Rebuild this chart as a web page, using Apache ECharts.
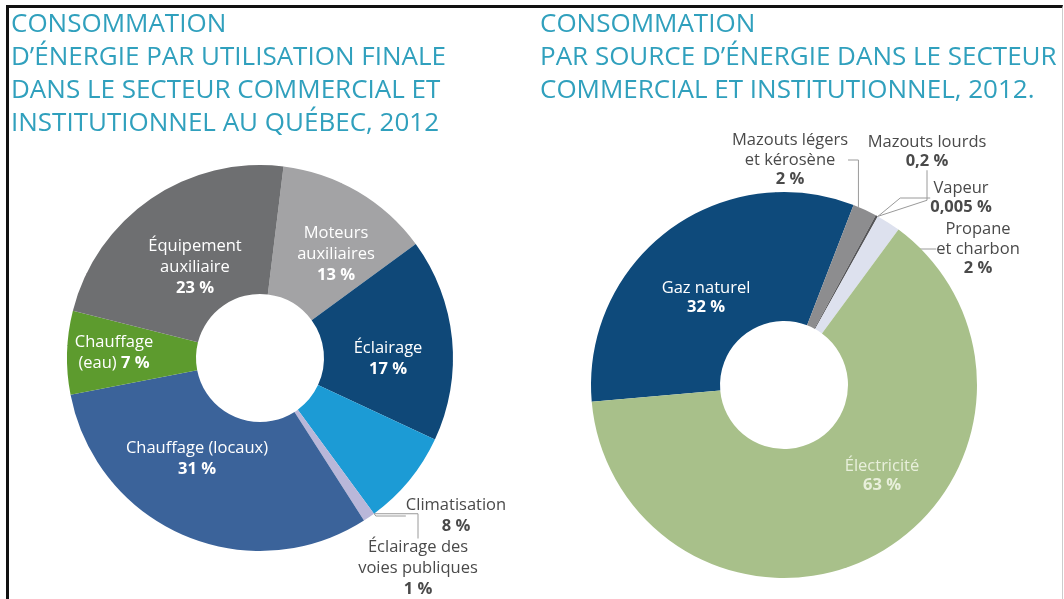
<!DOCTYPE html>
<html>
<head>
<meta charset="utf-8">
<script src="https://cdn.jsdelivr.net/npm/echarts@6/dist/echarts.min.js"></script>
<style>
html,body{margin:0;padding:0;background:#fff;}
#frame{position:absolute;left:6px;top:5px;width:1057px;height:600px;border-top:3px solid #111;border-left:3px solid #111;border-right:1px solid #ccc;box-sizing:border-box;pointer-events:none;}
#chart{position:absolute;left:0;top:0;width:1064px;height:599px;}
</style>
</head>
<body>
<div id="chart"></div>
<div id="frame"></div>
<script>
// ---- Data ----
const leftTitle = "CONSOMMATION\nD\u2019ÉNERGIE PAR UTILISATION FINALE\nDANS LE SECTEUR COMMERCIAL ET\nINSTITUTIONNEL AU QUÉBEC, 2012";
const rightTitle = "CONSOMMATION\nPAR SOURCE D\u2019ÉNERGIE DANS LE SECTEUR\nCOMMERCIAL ET INSTITUTIONNEL, 2012.";

const useCategories = ["Moteurs auxiliaires", "Éclairage", "Climatisation", "Éclairage des voies publiques", "Chauffage (locaux)", "Chauffage (eau)", "Équipement auxiliaire"];
const useValues = [13, 17, 8, 1, 31, 7, 23];
const useLabels = ["13 %", "17 %", "8 %", "1 %", "31 %", "7 %", "23 %"];

const sourceCategories = ["Gaz naturel", "Mazouts légers et kérosène", "Mazouts lourds", "Vapeur", "Propane et charbon", "Électricité"];
const sourceValues = [32, 2, 0.2, 0.005, 2, 63];
const sourceLabels = ["32 %", "2 %", "0,2 %", "0,005 %", "2 %", "63 %"];

// ---- Styling / layout ----
const FONT = "'Open Sans', 'Noto Sans', sans-serif";
const useColors = ["#a3a3a5", "#0f4878", "#1c9bd5", "#b9b7d9", "#3b639a", "#5d9b2e", "#6e6f71"];
const sourceColors = ["#0e4a7b", "#8d8d8f", "#555558", "#bfc4d8", "#dde1ee", "#a8c08a"];

// label text (line breaks) per category
const useLabelText = {
  "Moteurs auxiliaires": ["Moteurs", "auxiliaires"],
  "Éclairage": ["Éclairage"],
  "Climatisation": ["Climatisation"],
  "Éclairage des voies publiques": ["Éclairage des", "voies publiques"],
  "Chauffage (locaux)": ["Chauffage (locaux)"],
  "Chauffage (eau)": ["Chauffage"],
  "Équipement auxiliaire": ["Équipement", "auxiliaire"]
};
const sourceLabelText = {
  "Gaz naturel": ["Gaz naturel"],
  "Mazouts légers et kérosène": ["Mazouts légers", "et kérosène"],
  "Mazouts lourds": ["Mazouts lourds"],
  "Vapeur": ["Vapeur"],
  "Propane et charbon": ["Propane", "et charbon"],
  "Électricité": ["Électricité"]
};
// label anchor positions (px); third value: 0 inside (white), 1 outside (dark), 2 pale
const useLabelPos = [[336, 254, 0], [388, 359, 0], [456, 516, 1], [418, 568, 1], [197, 459, 0], [114, 353, 0], [195, 267, 0]];
const useLeader = {3: [[368, 519], [384, 528]]};
const sourceLabelPos = [[790, 160, 1], [927, 152, 1], [961, 198, 1], [978, 249, 1], [706, 298, 0], [882, 476, 2]];
const sourceLeader = {1: [[851, 197], [823, 177]], 2: [[875, 214], [893, 162]], 3: [[878, 214], [926, 202]], 4: [[885, 222], [938, 227]]};

function richFor(kind, lh) {
  const c = kind === 1 ? "#4a4a4a" : (kind === 2 ? "#e8efdb" : "#ffffff");
  return {
    n: {fontFamily: FONT, fontSize: 16.5, color: c, lineHeight: lh, align: 'center'},
    v: {fontFamily: FONT, fontSize: 16.5, color: c, fontWeight: 'bold', lineHeight: lh, align: 'center'}
  };
}

function buildData(cats, vals, labs, colors, textMap, pos, lh) {
  return cats.map((c, i) => {
    const lines = textMap[c];
    let fmt;
    if (c === "Chauffage (eau)") {
      fmt = "{n|" + lines[0] + "}\n{n|(eau) }{v|" + labs[i] + "}";
    } else {
      fmt = lines.map(l => "{n|" + l + "}").join("\n") + "\n{v|" + labs[i] + "}";
    }
    return {
      name: c,
      value: vals[i],
      itemStyle: {color: colors[i]},
      label: {show: true, formatter: fmt, rich: richFor(pos[i][2], lh), position: 'inside'}
    };
  });
}

function layoutFn(pos, leaders) {
  return function (params) {
    const p = pos[params.dataIndex];
    const r = {x: p[0], y: p[1], align: 'center', verticalAlign: 'middle'};
    if (leaders[params.dataIndex]) r.labelLinePoints = leaders[params.dataIndex];
    return r;
  };
}

// reorder right labels to match data order
const sourcePosByIndex = [sourceLabelPos[4], sourceLabelPos[0], sourceLabelPos[1], sourceLabelPos[2], sourceLabelPos[3], sourceLabelPos[5]];

const chart = echarts.init(document.getElementById('chart'), null, {renderer: 'canvas'});
chart.setOption({
  animation: false,
  backgroundColor: '#ffffff',
  title: [
    {text: leftTitle, left: 11, top: 8, padding: 0, textStyle: {fontFamily: FONT, fontSize: 26, fontWeight: 'normal', color: '#30a0bd', lineHeight: 33}},
    {text: rightTitle, left: 540, top: 8, padding: 0, textStyle: {fontFamily: FONT, fontSize: 26, fontWeight: 'normal', color: '#30a0bd', lineHeight: 33}}
  ],
  series: [
    {
      type: 'pie',
      center: [260, 358],
      radius: [64, 193],
      startAngle: 83,
      clockwise: true,
      silent: true,
      data: buildData(useCategories, useValues, useLabels, useColors, useLabelText, useLabelPos, 21),
      labelLine: {show: true, lineStyle: {color: '#9a9a9a', width: 1}},
      labelLayout: layoutFn(useLabelPos, useLeader)
    },
    {
      type: 'pie',
      center: [784, 385],
      radius: [64, 193],
      startAngle: -175,
      clockwise: true,
      silent: true,
      data: buildData(sourceCategories, sourceValues, sourceLabels, sourceColors, sourceLabelText, sourcePosByIndex, 19.5),
      labelLine: {show: true, lineStyle: {color: '#9a9a9a', width: 1}},
      labelLayout: layoutFn(sourcePosByIndex, {2: sourceLeader[1], 3: sourceLeader[2], 4: sourceLeader[3], 1: [[851, 197], [823, 177]]})
    }
  ]
});
</script>
</body>
</html>
